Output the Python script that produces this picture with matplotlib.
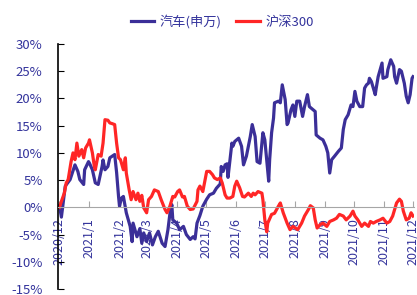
"""Auto sector (SW) vs CSI 300 cumulative return, Dec 2020 - Dec 2021."""

import matplotlib
matplotlib.use("Agg")
import matplotlib.dates as mdates
import matplotlib.pyplot as plt
import pandas as pd
from matplotlib.ticker import FuncFormatter, MultipleLocator

START = pd.Timestamp("2020-12-01")

# days since START, cumulative return in %
auto_days = [0, 2, 6, 11, 16, 19, 21, 25, 26, 30, 31, 34, 37, 40, 44, 45, 47, 50, 52, 57,
             59, 61, 62, 64, 66, 69, 73, 75, 76, 80, 83, 85, 87, 90, 93, 96, 99, 102, 106, 109,
             112, 114, 116, 117, 121, 124, 128, 131, 135, 138, 140, 142, 145, 148, 152, 155, 159, 162, 166, 167,
             169, 171, 173, 174, 176, 178, 179, 181, 185, 188, 190, 193, 197, 199, 202, 204, 207, 210, 212, 216,
             217, 219, 221, 222, 226, 228, 230, 233, 235, 236, 239, 241, 243, 245, 248, 251, 253, 256, 258, 260,
             264, 265, 269, 272, 275, 277, 279, 281, 284, 288, 291, 293, 295, 298, 301, 303, 305, 307, 310, 313,
             315, 317, 319, 320, 322, 324, 326, 327, 329, 333, 334, 338, 339, 342, 345, 346, 348, 351, 353, 356,
             358, 360, 362, 364, 365]
auto_vals = [0.3, -1.8, 3.9, 5.1, 7.8, 6.6, 5.1, 4.2, 6.9, 8.4, 8.1, 6.9, 4.5, 4.2, 7.5, 8.7, 6.9, 7.5, 9.1, 9.7,
             6.4, 2.0, 0.2, 1.7, 2.0, -1.0, -3.5, -6.3, -2.9, -5.4, -3.9, -6.6, -4.7, -6.3, -4.7, -6.9, -5.4, -4.4, -6.6, -7.2,
             -4.1, -1.2, 0.5, -2.3, -2.9, -4.1, -3.5, -5.0, -5.9, -5.4, -5.8, -2.9, -1.5, 0.2, 1.5, 2.3, 2.6, 3.5, 4.3, 7.5,
             6.6, 7.8, 8.0, 5.5, 8.7, 11.8, 11.2, 12.1, 12.7, 11.2, 7.8, 9.4, 13.0, 15.2, 13.0, 8.4, 8.1, 13.7, 12.4, 4.8,
             8.75, 13.7, 16.4, 19.2, 19.5, 19.2, 22.5, 19.8, 15.2, 15.5, 17.9, 18.8, 16.7, 19.5, 19.5, 16.7, 18.5, 20.7, 18.5, 18.2,
             17.6, 13.3, 12.7, 12.4, 11.2, 10.0, 6.3, 8.75, 9.4, 10.3, 10.9, 14.3, 16.1, 17.0, 18.8, 18.5, 21.3, 19.5, 18.5, 18.5,
             21.9, 22.5, 22.8, 23.7, 23.1, 21.9, 20.7, 21.9, 24.0, 26.5, 23.7, 24.0, 25.3, 27.1, 25.9, 24.0, 22.8, 25.3, 25.0, 22.8,
             20.4, 19.2, 20.7, 23.7, 24.0]

hs300_days = [0, 2, 5, 7, 9, 12, 14, 16, 18, 20, 23, 25, 27, 30, 31, 34, 36, 37, 40, 43,
              45, 47, 50, 52, 54, 57, 59, 61, 63, 66, 68, 69, 72, 74, 76, 79, 81, 83, 85, 87,
              90, 92, 95, 98, 102, 105, 109, 111, 114, 117, 119, 122, 124, 127, 129, 132, 135, 138, 142, 143,
              145, 148, 150, 152, 155, 158, 160, 163, 166, 168, 171, 173, 176, 179, 181, 183, 186, 189, 191, 195,
              198, 200, 202, 205, 209, 210, 212, 214, 215, 219, 222, 226, 228, 231, 235, 238, 241, 246, 250, 253,
              257, 259, 262, 264, 266, 269, 272, 276, 279, 283, 286, 289, 293, 296, 300, 303, 305, 308, 312, 315,
              319, 321, 324, 327, 331, 334, 338, 341, 344, 348, 351, 353, 355, 358, 361, 363, 365]
hs300_vals = [0.0, 1.1, 2.6, 4.5, 5.1, 8.4, 10.0, 8.75, 11.8, 9.4, 10.6, 9.1, 10.9, 11.8, 12.4, 10.0, 7.5, 6.9, 9.7, 9.4,
              11.8, 16.1, 16.0, 15.5, 15.4, 15.2, 11.8, 9.1, 8.75, 6.9, 9.1, 6.3, 3.2, 1.4, 2.9, 1.4, 2.6, 1.1, 2.2, -0.1,
              -1.0, 1.4, 2.0, 3.2, 2.9, 1.4, -0.4, -1.0, 0.2, 2.0, 1.9, 2.9, 3.2, 1.9, 2.0, 0.2, -0.4, -0.3, 1.1, 3.2,
              3.9, 2.9, 4.8, 6.6, 6.6, 6.0, 5.4, 5.1, 5.4, 4.5, 2.3, 1.7, 1.7, 2.0, 3.9, 4.8, 3.6, 2.0, 1.9, 2.6,
              2.0, 2.6, 2.3, 2.9, 2.6, 1.4, -2.3, -4.5, -2.9, -1.3, -1.1, 0.2, 0.8, -1.0, -2.9, -4.1, -3.5, -4.1, -2.9, -1.6,
              -0.4, 0.3, -0.1, -2.3, -3.8, -3.2, -2.9, -3.5, -2.6, -2.3, -2.0, -1.3, -1.6, -2.3, -1.6, -0.7, -1.6, -2.3, -3.5, -2.9,
              -3.5, -2.6, -2.9, -2.6, -2.3, -2.0, -2.9, -2.6, -1.6, 0.8, 1.5, 1.1, -0.7, -2.3, -2.0, -1.0, -1.6]

BLUE = "#3B2F98"
RED = "#FF2626"
NAVY = "#34349C"

plt.rcParams["font.family"] = ["Noto Sans CJK SC", "DejaVu Sans"]

auto_dates = START + pd.to_timedelta(auto_days, unit="D")
hs300_dates = START + pd.to_timedelta(hs300_days, unit="D")

fig = plt.figure(figsize=(4.17, 2.95), dpi=100)
ax = fig.add_axes([58 / 417, 6 / 295, 356 / 417, 245 / 295])

ax.plot(auto_dates, auto_vals, color=BLUE, lw=2.3, label="汽车(申万)")
ax.plot(hs300_dates, hs300_vals, color=RED, lw=2.3, label="沪深300")

ax.set_ylim(-15, 30)
ax.yaxis.set_major_locator(MultipleLocator(5))
ax.yaxis.set_major_formatter(FuncFormatter(lambda v, _: f"{v:.0f}%"))

ax.set_xlim(START - pd.Timedelta(hours=36), START + pd.Timedelta(days=366))
ax.xaxis.set_major_locator(mdates.MonthLocator())
ax.xaxis.set_major_formatter(
    FuncFormatter(lambda v, _: "{0.year}/{0.month}".format(mdates.num2date(v))))

for side in ("top", "right"):
    ax.spines[side].set_visible(False)
ax.spines["bottom"].set_position(("data", 0))
ax.spines["bottom"].set_color("#A6A6A6")
ax.spines["left"].set_color("black")
ax.spines["left"].set_linewidth(1.2)

ax.tick_params(axis="y", direction="in", length=4, color="black",
               labelcolor=NAVY, labelsize=9.5, pad=11)
ax.tick_params(axis="x", direction="in", length=4, color="#A6A6A6",
               labelcolor=NAVY, labelsize=9, labelrotation=90, pad=8)

fig.legend(loc="center", bbox_to_anchor=(222 / 417, 1 - 22 / 295), ncol=2,
           frameon=False, fontsize=9.5, handlelength=1.8, handletextpad=0.4,
           columnspacing=1.1, labelcolor=NAVY)

fig.savefig("out.png", dpi=100)
plt.close(fig)
